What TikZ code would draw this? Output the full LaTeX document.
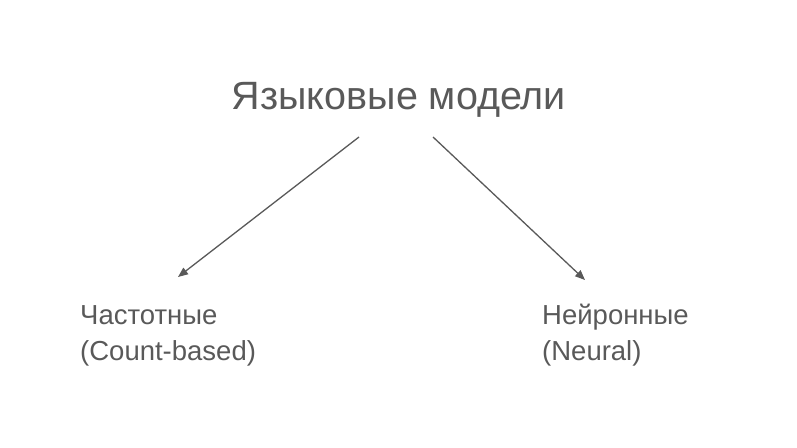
\documentclass[tikz,border=0pt]{standalone}
\usepackage{fontspec}
\setmainfont{Liberation Sans}
\usetikzlibrary{arrows.meta}
\definecolor{txtgray}{HTML}{595959}
\begin{document}
\begin{tikzpicture}[x=1pt,y=-1pt,
  lbl/.style={inner sep=0pt, text=txtgray, anchor=base west, align=left, font=\fontsize{27.5}{36}\selectfont},
  ttl/.style={inner sep=0pt, text=txtgray, anchor=base, font=\fontsize{39.5}{44}\selectfont},
  conn/.style={draw=txtgray, line width=1.3pt, -{Triangle[length=10pt,width=8pt]}}]
\useasboundingbox (0,0) rectangle (797,447);
\node[ttl] (title) at (399,109) {Языковые модели};
\node[lbl] (cnt) at (80,360) {Частотные\\(Count-based)};
\node[lbl] (neur) at (542,360) {Нейронные\\(Neural)};
\coordinate (s1) at (359,137);
\coordinate (e1) at (178,277);
\coordinate (s2) at (433,137);
\coordinate (e2) at (585,280);
\draw[conn] (s1) -- (e1);
\draw[conn] (s2) -- (e2);
\end{tikzpicture}
\end{document}
